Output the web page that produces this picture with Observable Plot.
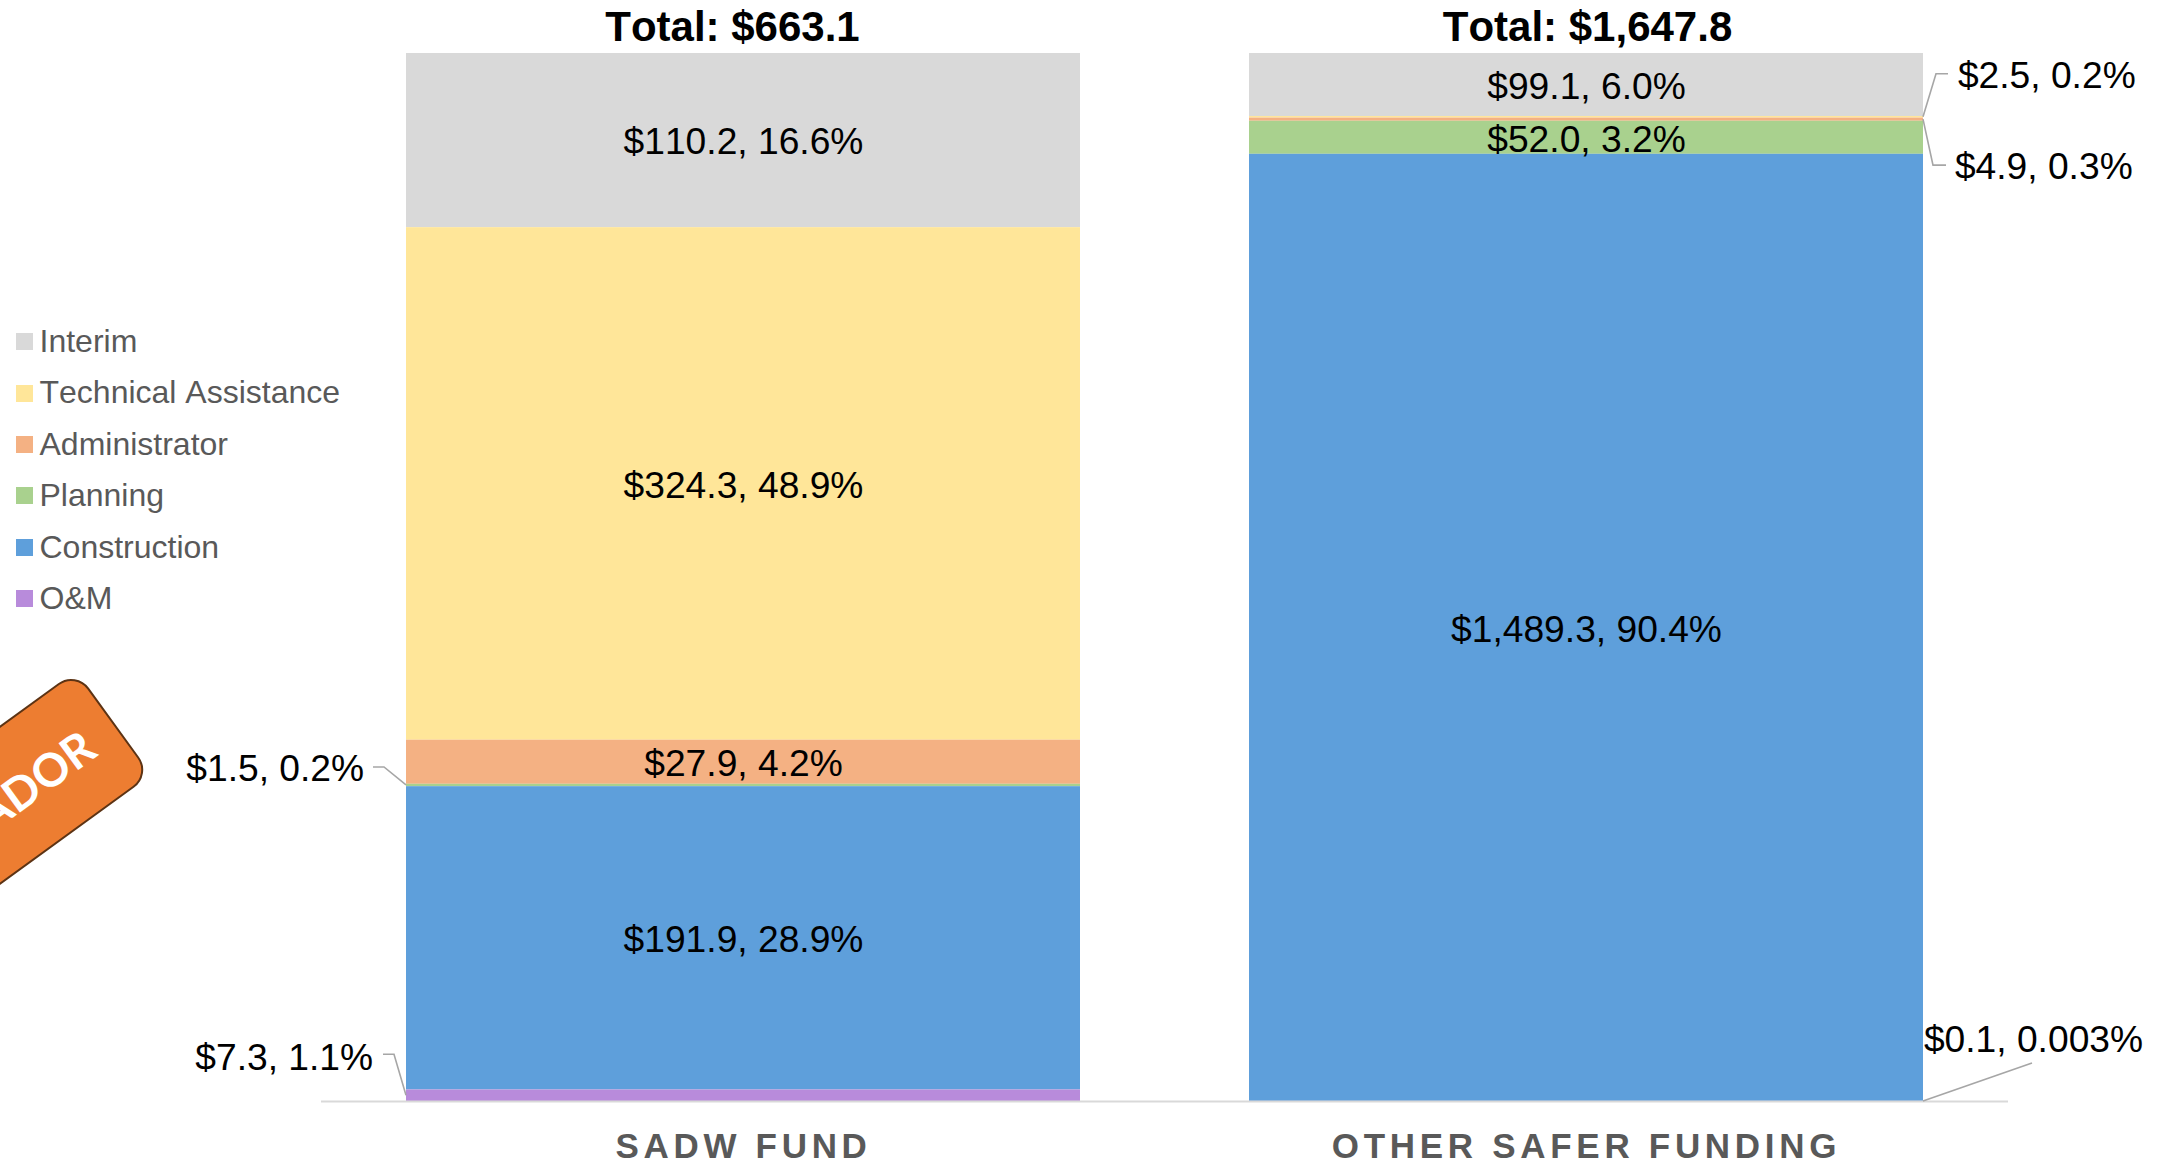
<!DOCTYPE html>
<html>
<head>
<meta charset="utf-8">
<script src="https://cdn.jsdelivr.net/npm/d3@7"></script>
<script src="https://cdn.jsdelivr.net/npm/@observablehq/plot@0.6"></script>
<style>
html,body{margin:0;padding:0;background:#fff;overflow:hidden;width:2160px;height:1164px;position:relative;font-family:"Liberation Sans",Arial,sans-serif;font-kerning:none}
svg{display:block;font-kerning:none}
svg text{font-kerning:none}
.legend{position:absolute;left:16px;top:316px;color:#595959;font-size:32px;line-height:51.4px}
.legend div{display:flex;align-items:center;height:51.4px;white-space:nowrap}
.legend i{display:block;width:17px;height:17px;margin-right:6.5px}
.badge{position:absolute;left:-386px;top:658px;width:500px;height:129px;box-sizing:border-box;background:#ED7D31;border:2px solid #5c3314;border-radius:22px;transform-origin:100% 50%;transform:rotate(-36deg);color:#fff;font:bold 46px Lato,"Open Sans",sans-serif;text-align:right;line-height:125px;padding-right:29px;font-kerning:normal}
g[aria-label="x-axis tick label"] text{letter-spacing:4.7px}
</style>
</head>
<body>
<div id="chart"></div>
<script>
const funds = ["SADW FUND", "OTHER SAFER FUNDING"];
const seriesNames = ["Interim", "Technical Assistance", "Administrator", "Planning", "Construction", "O&M"];
const seriesColors = ["#D9D9D9", "#FFE699", "#F4B183", "#A9D18E", "#5E9FDB", "#B88BDB"];
const sadwValues = [110.2, 324.3, 27.9, 1.5, 191.9, 7.3];
const otherValues = [99.1, 2.5, 4.9, 52.0, 1489.3, 0.1];
const sadwPercents = ["16.6%", "48.9%", "4.2%", "0.2%", "28.9%", "1.1%"];
const otherPercents = ["6.0%", "0.2%", "0.3%", "3.2%", "90.4%", "0.003%"];
const totals = ["$663.1", "$1,647.8"];

const W = 2160, H = 1164, ML = 321, MR = 152, MT = 53, MB = 63;
const fmt = d3.format(",.1f");
const rows = [];
funds.forEach((fund, f) => {
  const vals = f === 0 ? sadwValues : otherValues;
  const pcts = f === 0 ? sadwPercents : otherPercents;
  const sum = d3.sum(vals);
  seriesNames.forEach((s, i) => {
    const below = d3.sum(vals.slice(i + 1));
    rows.push({fund, series: s, value: vals[i], label: `$${fmt(vals[i])}, ${pcts[i]}`,
      mid: (below + vals[i] / 2) / sum});
  });
});

// Placement of callouts, relative to the bar edge and the segment they describe
const callouts = new Map([
  ["SADW FUND|Planning", {side: 0, pts: [[-22, -18], [-33, -18]], tx: -42, ty: -16, anchor: "end"}],
  ["SADW FUND|O&M", {side: 0, pts: [[-12, -41], [-23, -41]], tx: -33, ty: -38, anchor: "end"}],
  ["OTHER SAFER FUNDING|Technical Assistance", {side: 1, pts: [[13, -43], [25, -43]], tx: 34, ty: -41, anchor: "start"}],
  ["OTHER SAFER FUNDING|Administrator", {side: 1, pts: [[10, 46], [23, 46]], tx: 31, ty: 47, anchor: "start"}],
  ["OTHER SAFER FUNDING|O&M", {side: 1, pts: [[109, -38]], tx: 0, ty: -61, anchor: "start"}]
]);
const titleShift = [-11, 1];
const key = d => `${d.fund}|${d.series}`;
const inside = rows.filter(d => !callouts.has(key(d)));
const outside = rows.filter(d => callouts.has(key(d)));
const halfBar = (W - ML - MR) / 2 * 0.8 / 2;
const labelSize = 37.2;

const leaders = (index, {x, y}) => {
  const g = d3.create("svg:g").attr("fill", "none").attr("stroke", "#A6A6A6").attr("stroke-width", 1.6);
  for (const d of outside) {
    const c = callouts.get(key(d));
    const x0 = x(d.fund) + c.side * x.bandwidth();
    const y0 = y(d.mid);
    g.append("path").attr("d", d3.line()([[x0, y0], ...c.pts.map(([a, b]) => [x0 + a, y0 + b])]));
  }
  return g.node();
};

const stackOpts = {x: "fund", y: "value", z: "series", order: [...seriesNames].reverse(), offset: "normalize"};

const plot = Plot.plot({
  width: W, height: H,
  marginLeft: ML, marginRight: MR, marginTop: MT, marginBottom: MB,
  style: {background: "#fff", fontFamily: "Liberation Sans, Arial, sans-serif"},
  x: {domain: funds, paddingInner: 0.2, paddingOuter: 0.1, label: null},
  y: {domain: [0, 1], axis: null},
  color: {domain: seriesNames, range: seriesColors},
  marks: [
    Plot.barY(rows, Plot.stackY({...stackOpts, fill: "series"})),
    Plot.ruleY([0], {stroke: "#D9D9D9", strokeWidth: 2}),
    Plot.axisX({tickSize: 0, tickPadding: 32, fontSize: 35, fontWeight: "bold", fill: "#595959", label: null}),
    Plot.text(inside, {x: "fund", y: "mid", text: "label", fontSize: labelSize, fill: "#000", dy: 2}),
    ...funds.map((fund, i) => Plot.text([fund], {x: d => d, y: () => 1, text: () => `Total: ${totals[i]}`, fontSize: 42, fontWeight: "bold", fill: "#000", dy: -26, dx: titleShift[i]})),
    leaders,
    ...outside.map(d => {
      const c = callouts.get(key(d));
      return Plot.text([d], {
        x: "fund", y: "mid", text: "label", fontSize: labelSize, fill: "#000",
        textAnchor: c.anchor,
        dx: (c.side ? halfBar : -halfBar) + c.tx,
        dy: c.ty
      });
    })
  ]
});
document.getElementById("chart").appendChild(plot);

const legend = d3.select("body").append("div").attr("class", "legend");
seriesNames.forEach((s, i) => {
  const row = legend.append("div");
  row.append("i").style("background", seriesColors[i]);
  row.append("span").text(s);
});
d3.select("body").append("div").attr("class", "badge").text("ADOR");
</script>
</body>
</html>
